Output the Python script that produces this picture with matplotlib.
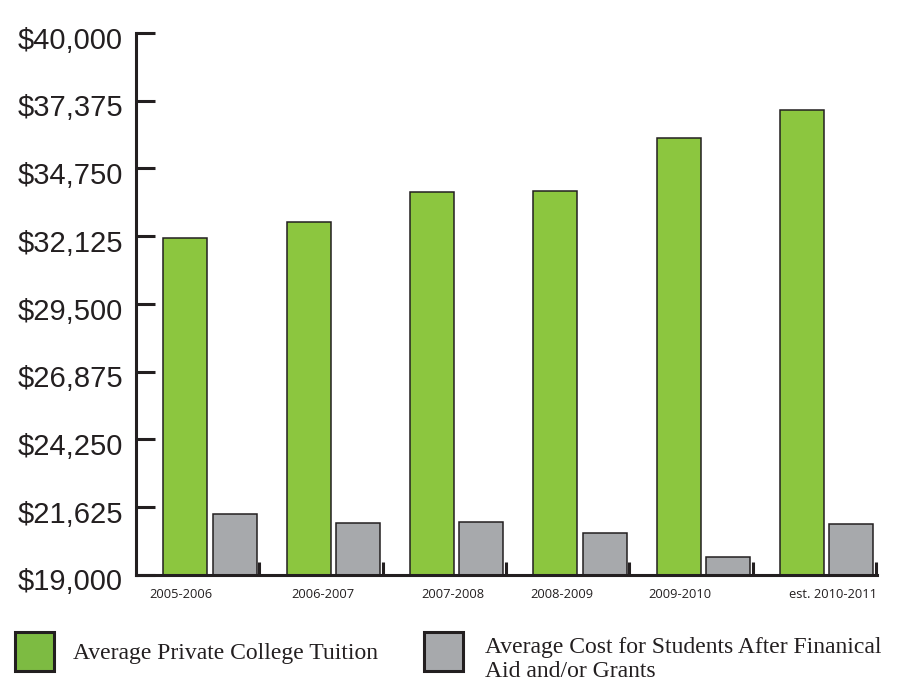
import matplotlib
matplotlib.use("Agg")
import matplotlib.pyplot as plt
from matplotlib.patches import Patch
from matplotlib.ticker import FixedLocator
from matplotlib.transforms import ScaledTranslation

# === data ===
years = ["2005-2006", "2006-2007", "2007-2008", "2008-2009", "2009-2010", "est. 2010-2011"]
tuition = [32050, 32670, 33830, 33880, 35920, 37000]
after_aid = [21380, 21020, 21060, 20620, 19690, 20990]
y_ticks = [19000, 21625, 24250, 26875, 29500, 32125, 34750, 37375, 40000]
label_pos = [0.365, 1.515, 2.569, 3.452, 4.408, 5.648]

green = "#8cc63f"
grey = "#a7a9ac"
ink = "#231f20"

fig = plt.figure(figsize=(9, 6.86), dpi=100)
ax = fig.add_axes([136 / 900, 111 / 686, 740.7 / 900, 542 / 686])

idx = range(len(years))
w = 0.357
ax.bar([i + 0.40 for i in idx], tuition, width=w, color=green, edgecolor=ink, linewidth=1.1)
ax.bar([i + 0.80 for i in idx], after_aid, width=w, color=grey, edgecolor=ink, linewidth=1.1)

ax.set_xlim(0, 6.005)
ax.set_ylim(19000, 40000)

# axes look
for s in ["top", "right"]:
    ax.spines[s].set_visible(False)
for s in ["left", "bottom"]:
    ax.spines[s].set_linewidth(2.2)
    ax.spines[s].set_color(ink)

ax.set_yticks(y_ticks)
ax.set_yticklabels(["${:,}".format(v) for v in y_ticks],
                   fontsize=21, family=["Liberation Sans", "DejaVu Sans"], color=ink)
ax.tick_params(axis="y", direction="in", length=13.7, width=2.2, color=ink, pad=9.5)
# labels sit a few px below their ticks in the original
shift = ScaledTranslation(0, -0.045, fig.dpi_scale_trans)
for lab in ax.get_yticklabels():
    lab.set_transform(lab.get_transform() + shift)

ax.set_xticks(label_pos)
ax.set_xticklabels(years, fontsize=9.3, family=["Open Sans", "DejaVu Sans"], color=ink)
ax.tick_params(axis="x", which="major", length=0, pad=9)
ax.xaxis.set_minor_locator(FixedLocator([1, 2, 3, 4, 5, 6]))
ax.tick_params(axis="x", which="minor", direction="in", length=9.4, width=2.2, color=ink)

# legend, two separate entries like the reference
serif = ["Liberation Serif", "DejaVu Serif"]
h1 = Patch(facecolor="#7dbb42", edgecolor=ink, linewidth=2.2)
h2 = Patch(facecolor=grey, edgecolor=ink, linewidth=2.2)
common = dict(frameon=False, borderpad=0, borderaxespad=0, handlelength=1.65,
              handleheight=2.165, labelspacing=0,
              prop={"family": serif, "size": 17}, labelcolor=ink, loc="upper left")
fig.legend([h1], ["Average Private College Tuition"], handletextpad=0.8,
           bbox_to_anchor=(15 / 900, 1 - 632 / 686), **common)
leg2 = fig.legend([h2], ["Average Cost for Students After Finanical\nAid and/or Grants"],
                  handletextpad=0.93, bbox_to_anchor=(424 / 900, 1 - 637 / 686), **common)
for t in leg2.get_texts():
    t.set_linespacing(1.2)
# the grey key sits higher than the centre of the two text lines
key = leg2.legend_handles[0]
key.set_y(key.get_y() + 6.1)

fig.savefig("out.png", dpi=100)
